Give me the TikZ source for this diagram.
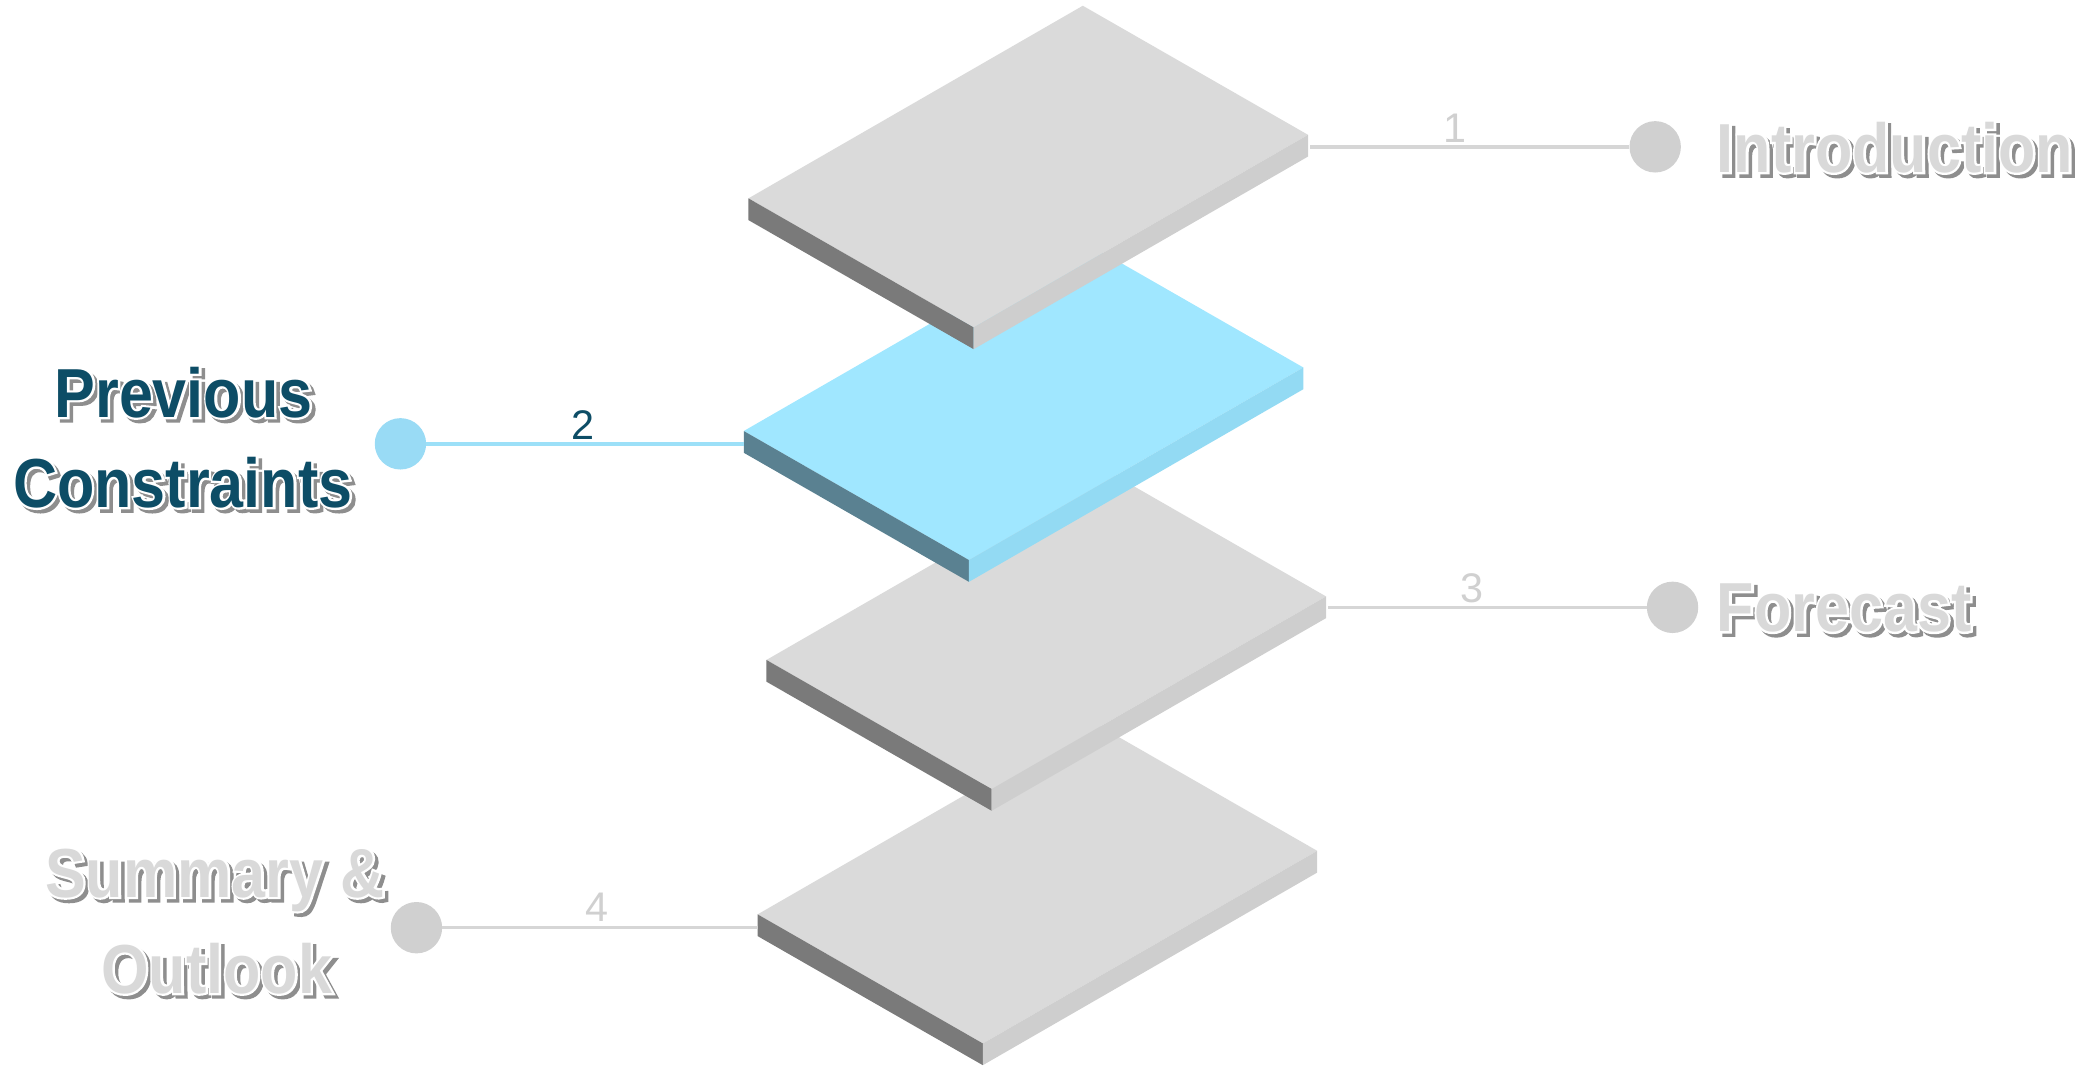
\documentclass[tikz,border=0pt]{standalone}
\usepackage{fontspec}
\setmainfont{Liberation Sans}
\newfontfamily\lblfont{Liberation Sans}[FakeStretch=0.88]
\newfontfamily\numfont{Liberation Sans}
\usetikzlibrary{calc}
\definecolor{gtop}{HTML}{DADADA}
\definecolor{gleft}{HTML}{7A7A7A}
\definecolor{gright}{HTML}{CECECE}
\definecolor{btop}{HTML}{A0E7FF}
\definecolor{bleft}{HTML}{5A8191}
\definecolor{bright}{HTML}{93DAF3}
\definecolor{gline}{HTML}{D6D6D6}
\definecolor{gdot}{HTML}{D0D0D0}
\definecolor{bline}{HTML}{9CE0F8}
\definecolor{bdot}{HTML}{99DBF5}
\definecolor{glabel}{HTML}{D9D9D9}
\definecolor{tealdk}{HTML}{0D4D66}
\definecolor{shade}{HTML}{8E8E8E}
\definecolor{gnum}{HTML}{D0D0D0}
\def\ax{250.5}\def\ay{-144.3}\def\bx{168.7}\def\by{96.7}\def\hh{16.3}
\newcommand\plate[4]{%
  \coordinate (#1L) at (#2,#3);
  \coordinate (#1T) at ($(#1L)+(\ax,\ay)$);
  \coordinate (#1F) at ($(#1L)+(\bx,\by)$);
  \coordinate (#1R) at ($(#1F)+(\ax,\ay)$);
  \fill[#4top] (#1L) -- (#1T) -- (#1R) -- (#1F) -- cycle;
  \fill[#4left] (#1L) -- (#1F) -- ($(#1F)+(0,\hh)$) -- ($(#1L)+(0,\hh)$) -- cycle;
  \fill[#4right] (#1F) -- (#1R) -- ($(#1R)+(0,\hh)$) -- ($(#1F)+(0,\hh)$) -- cycle;
}
% text with white outline and a grey drop shadow
\newcommand\fx[2]{%
  \rlap{\hspace*{2.6pt}\raisebox{-2.6pt}{\textcolor{shade}{\special{pdf:literal direct 2 Tr 0.557 0.557 0.557 RG 3.2 w}#2\special{pdf:literal direct 0 Tr}}}}%
  \rlap{\textcolor{white}{\special{pdf:literal direct 1 Tr 1 1 1 RG 3.2 w}#2\special{pdf:literal direct 0 Tr}}}%
  \textcolor{#1}{#2}}
\tikzset{
  lbl/.style={inner sep=0pt, font=\lblfont\bfseries\fontsize{52}{62}\selectfont},
  num/.style={inner sep=0pt, font=\numfont\fontsize{31}{36}\selectfont},
  dot/.style={circle, inner sep=0pt, minimum size=38.5pt},
  conn/.style={line width=2.6pt}
}
\begin{document}
\begin{tikzpicture}[x=1pt, y=-1pt]
\useasboundingbox (0,0) rectangle (1568,799);
% plates, bottom to top
\plate{p4}{567.6}{685.0}{g}
\plate{p3}{574.2}{494.4}{g}
\plate{p2}{557.2}{322.9}{b}
\plate{p1}{560.7}{148.6}{g}
% dots
\node[dot, fill=gdot] (d1) at (1240,110) {};
\node[dot, fill=bdot] (d2) at (300,332.5) {};
\node[dot, fill=gdot] (d3) at (1253,455) {};
\node[dot, fill=gdot] (d4) at (312,695) {};
% connector ends on plates
\coordinate (c1) at ($(p1R |- d1)+(1.5,0)$);
\coordinate (c2) at (p2L |- d2);
\coordinate (c3) at ($(p3R |- d3)+(1.5,0)$);
\coordinate (c4) at (p4L |- d4);
\draw[conn, gline] (c1) -- (d1);
\draw[conn, bline] (c2) -- (d2);
\draw[conn, gline] (c3) -- (d3);
\draw[conn, gline] (c4) -- (d4);
% numbers
\node[num, anchor=base, text=gnum] (n1) at (1090,107) {1};
\node[num, anchor=base, text=tealdk] (n2) at (437,329.5) {2};
\node[num, anchor=base, text=gnum] (n3) at (1103,451) {3};
\node[num, anchor=base, text=gnum] (n4) at (447,690.7) {4};
% labels
\node[lbl, anchor=base west] (t1) at (1286,129) {\fx{glabel}{Introduction}};
\node[lbl, anchor=base] (t2a) at (137.5,312.5) {\fx{tealdk}{Previous}};
\node[lbl, anchor=base] (t2b) at (137,380) {\fx{tealdk}{Constraints}};
\node[lbl, anchor=base west] (t3) at (1286,473) {\fx{glabel}{Forecast}};
\node[lbl, anchor=base] (t4a) at (161,672) {\fx{glabel}{Summary \&}};
\node[lbl, anchor=base] (t4b) at (162.3,744) {\fx{glabel}{Outlook}};
\end{tikzpicture}
\end{document}
